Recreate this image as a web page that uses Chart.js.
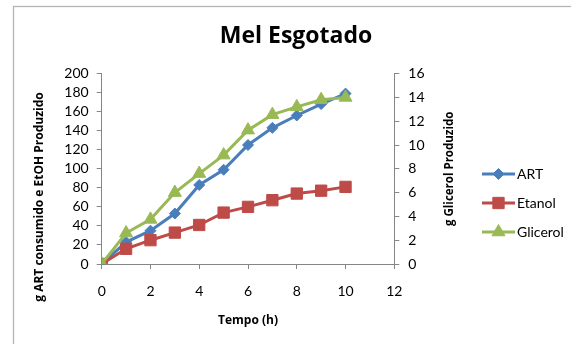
<!DOCTYPE html>
<html><head><meta charset="utf-8">
<script src="https://cdn.jsdelivr.net/npm/chart.js@4/dist/chart.umd.min.js"></script>
<style>html,body{margin:0;padding:0;background:#fff;}canvas{display:block;}</style>
</head><body>
<canvas id="c" width="571" height="344"></canvas>
<script>
const tempo = [0,1,2,3,4,5,6,7,8,9,10];
const art = [0,23,35,53,83,99,125,143,156,168,179];
const etanol = [0,16,25,33,41,54,60,67,74,77,81];
const glicerol = [0,2.6,3.75,6.0,7.6,9.15,11.25,12.55,13.2,13.8,14.0];
const xTicks = [0,2,4,6,8,10,12];
const seriesNames = ['ART','Etanol','Glicerol'];
const colors = ['#4A7EBB','#BE4B48','#98B954'];
const markers = ['rectRot','rect','triangle'];
const markerRadius = [5.5, 8, 7.5];
const chartTitle = 'Mel Esgotado';
const xTitle = 'Tempo (h)';
const yLeftTitle = 'g ART consumido e EtOH Produzido';
const yRightTitle = 'g Glicerol Produzido';

const FONT = 'Lato, "Open Sans", sans-serif';
const BFONT = '"Open Sans", Lato, sans-serif';
const AXIS = '#868686';

function pts(arr){ return tempo.map((t,i)=>({x:t,y:arr[i]})); }
function ds(i, arr, axis, order){
  return {
    label: seriesNames[i], data: pts(arr), yAxisID: axis, order: order,
    borderColor: colors[i], backgroundColor: colors[i], borderWidth: 3,
    pointStyle: markers[i], pointRadius: markerRadius[i],
    pointBackgroundColor: colors[i], pointBorderColor: colors[i], pointBorderWidth: 1,
    tension: 0, fill: false
  };
}

function drawMarker(ctx, style, x, y, r){
  ctx.beginPath();
  if (style === 'rect'){ const s = r*Math.SQRT1_2; ctx.rect(x-s,y-s,2*s,2*s); }
  else if (style === 'rectRot'){ ctx.moveTo(x,y-r); ctx.lineTo(x+r,y); ctx.lineTo(x,y+r); ctx.lineTo(x-r,y); ctx.closePath(); }
  else { for(let k=0;k<3;k++){ const a = k*2*Math.PI/3; const px=x+Math.sin(a)*r, py=y-Math.cos(a)*r; if(k===0)ctx.moveTo(px,py); else ctx.lineTo(px,py);} ctx.closePath(); }
  ctx.fill(); ctx.stroke();
}

const decor = {
  id: 'decor',
  beforeDraw(chart){
    const ctx = chart.ctx;
    ctx.save();
    ctx.strokeStyle = '#b5b5b5'; ctx.lineWidth = 1.3;
    ctx.strokeRect(13.5, 6.5, 700, 500);
    ctx.restore();
  },
  afterDraw(chart){
    const ctx = chart.ctx, a = chart.chartArea;
    ctx.save();
    ctx.fillStyle = '#000';
    ctx.textAlign = 'center'; ctx.textBaseline = 'middle';
    ctx.font = 'bold 12px ' + BFONT;
    ctx.save(); ctx.translate(40, 197); ctx.rotate(-Math.PI/2); ctx.fillText(yLeftTitle, 0, 0); ctx.restore();
    ctx.font = 'bold 11.5px ' + BFONT;
    ctx.save(); ctx.translate(450, (a.top+a.bottom)/2); ctx.rotate(-Math.PI/2); ctx.fillText(yRightTitle, 0, 0); ctx.restore();
    const ys = [174, 203, 232];
    chart.data.datasets.forEach((d,i)=>{
      const y = ys[i];
      ctx.strokeStyle = d.borderColor; ctx.lineWidth = 3;
      ctx.beginPath(); ctx.moveTo(482, y); ctx.lineTo(515, y); ctx.stroke();
      ctx.fillStyle = d.backgroundColor; ctx.lineWidth = 1;
      drawMarker(ctx, d.pointStyle, 498.5, y, d.pointRadius);
      ctx.fillStyle = '#000'; ctx.font = '14px ' + FONT; ctx.textAlign = 'left';
      ctx.fillText(d.label, 517, y);
    });
    ctx.restore();
  }
};

new Chart(document.getElementById('c'), {
  type: 'line',
  data: { datasets: [ ds(0, art, 'y', 2), ds(1, etanol, 'y', 1), ds(2, glicerol, 'y1', 0) ] },
  options: {
    responsive: false, animation: false,
    layout: { padding: { left: 21, right: 0, top: 0, bottom: 0 } },
    plugins: {
      legend: { display: false },
      tooltip: { enabled: false },
      title: { display: true, text: chartTitle, color: '#000',
        font: { family: BFONT, size: 23, weight: 'bold', lineHeight: 1.2 },
        padding: { top: 23, bottom: 23 } }
    },
    scales: {
      x: {
        type: 'linear', min: 0, max: 12,
        afterFit(s){ s.height = 80; },
        afterBuildTicks(s){ s.ticks = xTicks.map(v=>({value:v})); },
        grid: { display: true, drawOnChartArea: false, drawTicks: true, tickLength: 5, tickColor: AXIS },
        border: { display: true, color: AXIS, width: 1 },
        ticks: { color: '#000', padding: 14, autoSkip: false, font: { family: FONT, size: 14 }, maxRotation: 0 },
        title: { display: true, text: xTitle, color: '#000', font: { family: BFONT, size: 12, weight: 'bold', lineHeight: 1.2 }, padding: { top: 0, bottom: 16 } }
      },
      y: {
        position: 'left', min: 0, max: 200,
        afterFit(s){ s.width = 101.7 - 21; },
        grid: { display: true, drawOnChartArea: false, drawTicks: true, tickLength: 5, tickColor: AXIS },
        border: { display: true, color: AXIS, width: 1 },
        ticks: { stepSize: 20, autoSkip: false, color: '#000', padding: 8, font: { family: FONT, size: 14 } }
      },
      y1: {
        position: 'right', min: 0, max: 16,
        afterFit(s){ s.width = 571 - 394.3; },
        grid: { display: true, drawOnChartArea: false, drawTicks: true, tickLength: 5, tickColor: AXIS },
        border: { display: true, color: AXIS, width: 1 },
        ticks: { stepSize: 2, autoSkip: false, color: '#000', padding: 9, font: { family: FONT, size: 14 } }
      }
    }
  },
  plugins: [decor]
});
</script>
</body></html>
